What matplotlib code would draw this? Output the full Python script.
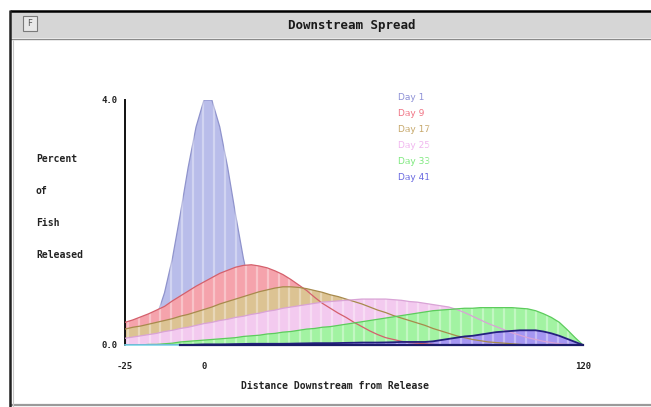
import numpy as np
import matplotlib
matplotlib.use("Agg")
import matplotlib.pyplot as plt
from matplotlib.patches import Rectangle

# ---------------- data ----------------
distance = [-25, -22.5, -20, -17.5, -15, -12.5, -10, -7.5, -5, -2.5,
            0, 2.5, 5, 7.5, 10, 12.5, 15, 17.5, 20, 22.5,
            25, 27.5, 30, 32.5, 35, 37.5, 40, 42.5, 45, 47.5,
            50, 52.5, 55, 57.5, 60, 62.5, 65, 67.5, 70, 72.5,
            75, 77.5, 80, 82.5, 85, 87.5, 90, 92.5, 95, 97.5,
            100, 102.5, 105, 107.5, 110, 112.5, 115, 117.5, 120]

day1 = [0.02, 0.04, 0.10, 0.22, 0.46, 0.85, 1.41, 2.13, 2.90, 3.56,
        4.00, 4.00, 3.56, 2.90, 2.13, 1.41, 0.85, 0.46, 0.22, 0.10,
        0.04, 0.01, 0, 0, 0, 0, 0, 0, 0, 0,
        0, 0, 0, 0, 0, 0, 0, 0, 0, 0,
        0, 0, 0, 0, 0, 0, 0, 0, 0, 0,
        0, 0, 0, 0, 0, 0, 0, 0, 0]

day9 = [0.37, 0.41, 0.46, 0.51, 0.57, 0.63, 0.72, 0.80, 0.88, 0.96,
        1.03, 1.10, 1.17, 1.22, 1.27, 1.30, 1.31, 1.29, 1.26, 1.21,
        1.15, 1.07, 0.98, 0.89, 0.78, 0.68, 0.60, 0.52, 0.45, 0.37,
        0.30, 0.23, 0.17, 0.12, 0.09, 0.06, 0.04, 0.03, 0.02, 0.01,
        0, 0, 0, 0, 0, 0, 0, 0, 0, 0,
        0, 0, 0, 0, 0, 0, 0, 0, 0]

day17 = [0.26, 0.29, 0.31, 0.34, 0.37, 0.40, 0.43, 0.47, 0.50, 0.54,
         0.58, 0.62, 0.67, 0.71, 0.75, 0.79, 0.83, 0.87, 0.90, 0.93,
         0.95, 0.95, 0.94, 0.92, 0.89, 0.86, 0.82, 0.79, 0.75, 0.71,
         0.67, 0.62, 0.57, 0.53, 0.48, 0.44, 0.40, 0.36, 0.32, 0.27,
         0.23, 0.19, 0.15, 0.12, 0.09, 0.07, 0.05, 0.04, 0.03, 0.02,
         0.01, 0, 0, 0, 0, 0, 0, 0, 0]

day25 = [0.11, 0.13, 0.15, 0.17, 0.19, 0.22, 0.24, 0.27, 0.29, 0.32,
         0.35, 0.37, 0.40, 0.42, 0.45, 0.47, 0.50, 0.52, 0.55, 0.57,
         0.60, 0.62, 0.64, 0.66, 0.68, 0.70, 0.71, 0.72, 0.73, 0.74,
         0.75, 0.75, 0.75, 0.75, 0.74, 0.73, 0.71, 0.70, 0.68, 0.66,
         0.64, 0.62, 0.58, 0.53, 0.47, 0.41, 0.35, 0.30, 0.25, 0.20,
         0.16, 0.12, 0.09, 0.06, 0.04, 0.02, 0.01, 0, 0]

day33 = [0, 0, 0, 0.01, 0.01, 0.02, 0.03, 0.05, 0.06, 0.07,
         0.08, 0.09, 0.10, 0.11, 0.12, 0.14, 0.15, 0.16, 0.18, 0.19,
         0.21, 0.22, 0.24, 0.26, 0.27, 0.29, 0.30, 0.32, 0.34, 0.36,
         0.38, 0.40, 0.42, 0.44, 0.46, 0.48, 0.50, 0.52, 0.54, 0.56,
         0.57, 0.58, 0.59, 0.60, 0.60, 0.61, 0.61, 0.61, 0.61, 0.61,
         0.60, 0.59, 0.56, 0.51, 0.45, 0.37, 0.25, 0.12, 0]

day41 = [0, 0, 0, 0, 0, 0, 0, 0, 0, 0.005,
         0.01, 0.01, 0.01, 0.012, 0.015, 0.017, 0.02, 0.02, 0.02, 0.02,
         0.02, 0.022, 0.025, 0.027, 0.03, 0.03, 0.03, 0.032, 0.035, 0.037,
         0.04, 0.04, 0.04, 0.042, 0.045, 0.05, 0.05, 0.05, 0.05, 0.06,
         0.08, 0.10, 0.12, 0.14, 0.15, 0.17, 0.19, 0.21, 0.22, 0.23,
         0.24, 0.24, 0.24, 0.22, 0.19, 0.15, 0.10, 0.05, 0]

series_labels = ["Day 1", "Day 9", "Day 17", "Day 25", "Day 33", "Day 41"]
series_values = [day1, day9, day17, day25, day33, day41]

title = "Downstream Spread"
x_label = "Distance Downstream from Release"
y_label_lines = ["Percent", "of", "Fish", "Released"]
x_ticks = [-25, 0, 120]
x_tick_labels = ["-25", "0", "120"]
y_ticks = [0, 4]
y_tick_labels = ["0.0", "4.0"]

# ---------------- styles ----------------
fill_colors = ["#b9bdea", "#f5a3ac", "#dcc393", "#f3caef", "#a2f3a2", "#a596f2"]
line_colors = ["#8f93cc", "#d4606c", "#a78a4c", "#d9a3d6", "#5ccc5c", "#24207e"]
text_colors = ["#8d90d6", "#f07283", "#c6a769", "#f1b6ef", "#7de97d", "#6767e0"]

W, H = 651, 407
fig = plt.figure(figsize=(W / 100, H / 100), dpi=100)
fig.patch.set_facecolor("white")

# background (window chrome) in pixel coordinates
bg = fig.add_axes([0, 0, 1, 1])
bg.set_xlim(0, W)
bg.set_ylim(H, 0)
bg.axis("off")
bg.add_patch(Rectangle((10, 10), W - 10, H - 10, facecolor="white", edgecolor="none"))
bg.add_patch(Rectangle((10, 12), W - 10, 26, facecolor="#d6d6d6", edgecolor="none"))
bg.plot([10, W], [11, 11], color="black", lw=1.8, solid_capstyle="butt")
bg.plot([10, W], [38.5, 38.5], color="#8a8a8a", lw=1.0, solid_capstyle="butt")
bg.plot([10, W], [404.5, 404.5], color="#9a9a9a", lw=1.6, solid_capstyle="butt")
bg.plot([9.5, 9.5], [10, H], color="#202020", lw=1.8, solid_capstyle="butt")
bg.plot([13, 13], [40, H], color="#c8c8c8", lw=0.8, solid_capstyle="butt")
bg.add_patch(Rectangle((23, 16), 14, 15, facecolor="#e8e8e8", edgecolor="#7a7a7a", lw=0.8))
bg.text(30, 23.5, "F", fontsize=6, color="#555555", ha="center", va="center",
        family="DejaVu Sans")
bg.text(352, 25, title, fontsize=9, fontweight="bold", ha="center", va="center",
        family="DejaVu Sans Mono", color="#1a1a1a")

# y label lines
for i, t in enumerate(y_label_lines):
    bg.text(36, 159 + 32 * i, t, fontsize=7, fontweight="bold", ha="left", va="center",
            family="DejaVu Sans Mono", color="#222222")
bg.text(335, 386, x_label, fontsize=7, fontweight="bold", ha="center", va="center",
        family="DejaVu Sans Mono", color="#222222")

# legend text
for i, (lab, c) in enumerate(zip(series_labels, text_colors)):
    bg.text(398, 97 + 16 * i, lab, fontsize=6.5, ha="left", va="center",
            family="DejaVu Sans", color=c)

# data axes
x0, x1, y0, y1 = 125, 583, 100, 345
ax = fig.add_axes([x0 / W, (H - y1) / H, (x1 - x0) / W, (y1 - y0) / H])
ax.set_xlim(-25, 120)
ax.set_ylim(0, 4)
ax.patch.set_alpha(0)
for s in ["top", "right", "bottom"]:
    ax.spines[s].set_visible(False)
ax.spines["left"].set_linewidth(1.4)
ax.spines["left"].set_color("#111111")

for i, (vals, fc) in enumerate(zip(series_values, fill_colors)):
    ax.fill_between(distance, 0, vals, facecolor=fc, edgecolor="none", zorder=2 + i * 0.1)

# Day 1 outline sits below the later fills
ax.plot(distance, day1, color=line_colors[0], lw=0.9, zorder=2.05)

# vertical striping like the original bar rendering
for xs in np.arange(-24, 120, 3.4):
    ax.axvline(xs, color="white", lw=1.6, alpha=0.35, zorder=3)

for i, (vals, lc) in enumerate(zip(series_values, line_colors)):
    if i == 0:
        continue
    ax.plot(distance, vals, color=lc, lw=0.9 if i < 5 else 1.3, zorder=4 + i * 0.1)

ax.plot([-25, -7.5], [0, 0], color="#7fd8e8", lw=1.2, zorder=5, clip_on=False)
ax.plot([-7.5, 120], [0, 0], color="#1c1c6a", lw=1.6, zorder=5, clip_on=False)

ax.set_xticks(x_ticks)
ax.set_xticklabels(x_tick_labels, family="DejaVu Sans Mono", fontweight="bold",
                   fontsize=6.5, color="#222222")
ax.set_yticks(y_ticks)
ax.set_yticklabels(y_tick_labels, family="DejaVu Sans Mono", fontweight="bold",
                   fontsize=6.5, color="#222222")
ax.tick_params(axis="x", length=0, pad=12)
ax.tick_params(axis="y", length=0, pad=5)

fig.savefig("out.png", dpi=100)
